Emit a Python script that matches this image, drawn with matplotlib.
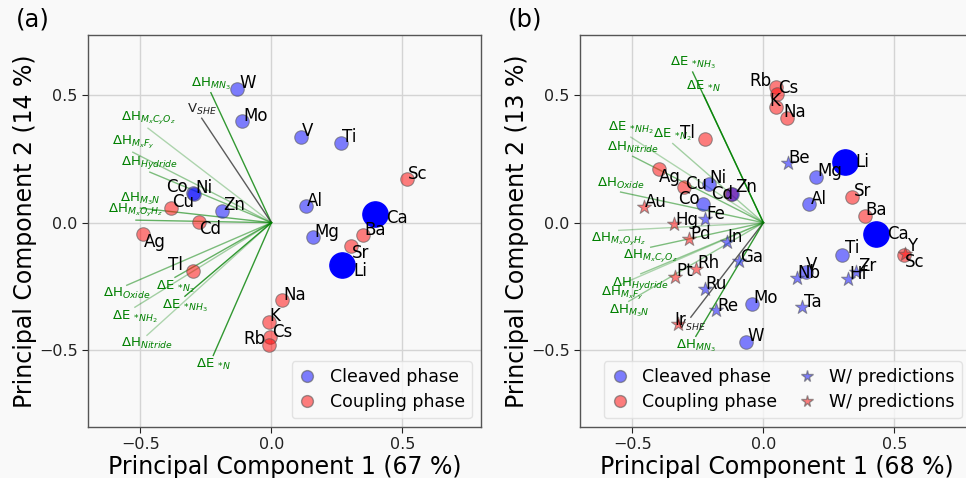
import matplotlib
matplotlib.use('Agg')
import matplotlib.pyplot as plt
from matplotlib.lines import Line2D

# ---------------- Panel (a) data ----------------
a_elements = ['W', 'Mo', 'V', 'Ti', 'Sc', 'Co', 'Ni', 'Cu', 'Zn', 'Cd', 'Ag', 'Tl',
              'Al', 'Mg', 'Ca', 'Ba', 'Sr', 'Li', 'Na', 'K', 'Cs', 'Rb']
a_pc1 = [-0.130, -0.111, 0.112, 0.267, 0.516, -0.299, -0.295, -0.384, -0.189, -0.275, -0.489, -0.300,
         0.133, 0.160, 0.395, 0.350, 0.305, 0.271, 0.041, -0.010, -0.004, -0.010]
a_pc2 = [0.523, 0.398, 0.334, 0.313, 0.173, 0.116, 0.114, 0.056, 0.046, 0.003, -0.046, -0.189,
         0.065, -0.056, 0.036, -0.049, -0.091, -0.167, -0.304, -0.389, -0.448, -0.478]
a_phase = ['cleaved', 'cleaved', 'cleaved', 'cleaved', 'coupling', 'cleaved', 'cleaved', 'coupling',
           'cleaved', 'coupling', 'coupling', 'coupling', 'cleaved', 'cleaved', 'cleaved', 'coupling',
           'coupling', 'cleaved', 'coupling', 'coupling', 'coupling', 'coupling']
a_loading_labels = [r'$\Delta\mathrm{H}_{MN_3}$', r'$\mathrm{V}_{SHE}$', r'$\Delta\mathrm{H}_{M_xC_yO_z}$',
                    r'$\Delta\mathrm{H}_{M_xF_y}$', r'$\Delta\mathrm{H}_{Hydride}$', r'$\Delta\mathrm{H}_{M_3N}$',
                    r'$\Delta\mathrm{H}_{M_xO_yH_z}$', r'$\Delta\mathrm{H}_{Oxide}$',
                    r'$\Delta\mathrm{E}\ {}_{*N_2}$', r'$\Delta\mathrm{E}\ {}_{*NH_3}$',
                    r'$\Delta\mathrm{E}\ {}_{*NH_2}$', r'$\Delta\mathrm{H}_{Nitride}$', r'$\Delta\mathrm{E}\ {}_{*N}$']
a_load_x = [-0.231, -0.266, -0.471, -0.529, -0.464, -0.500, -0.517, -0.552, -0.368, -0.330, -0.521, -0.475, -0.222]
a_load_y = [0.509, 0.409, 0.370, 0.276, 0.198, 0.057, 0.010, -0.245, -0.214, -0.288, -0.331, -0.441, -0.520]

# ---------------- Panel (b) data ----------------
b_elements = ['Rb', 'Cs', 'K', 'Na', 'Tl', 'Ag', 'Cu', 'Ni', 'Co', 'Cd', 'Zn', 'Au', 'Fe', 'Hg', 'Pd',
              'In', 'Ga', 'Rh', 'Pt', 'Ru', 'Mo', 'Re', 'Ir', 'W', 'Be', 'Li', 'Mg', 'Sr', 'Al', 'Ba',
              'Ca', 'Ti', 'Sc', 'Y', 'V', 'Nb', 'Zr', 'Hf', 'Ta']
b_pc1 = [0.047, 0.053, 0.047, 0.089, -0.224, -0.398, -0.303, -0.208, -0.229, -0.125, -0.120, -0.456,
         -0.224, -0.341, -0.284, -0.140, -0.093, -0.256, -0.337, -0.224, -0.045, -0.182, -0.326, -0.068,
         0.092, 0.310, 0.202, 0.340, 0.174, 0.387, 0.429, 0.299, 0.537, 0.541, 0.161, 0.127, 0.352,
         0.323, 0.146]
b_pc2 = [0.533, 0.504, 0.452, 0.410, 0.327, 0.212, 0.140, 0.151, 0.073, 0.112, 0.113, 0.062,
         0.014, -0.007, -0.062, -0.075, -0.151, -0.182, -0.212, -0.258, -0.320, -0.340, -0.398, -0.467,
         0.232, 0.236, 0.180, 0.099, 0.075, 0.027, -0.045, -0.127, -0.125, -0.122, -0.193, -0.215, -0.193,
         -0.222, -0.330]
b_phase = ['coupling', 'coupling', 'coupling', 'coupling', 'coupling', 'coupling', 'coupling', 'cleaved',
           'cleaved', 'coupling', 'cleaved', 'coupling', 'cleaved', 'coupling', 'coupling', 'cleaved',
           'cleaved', 'coupling', 'coupling', 'cleaved', 'cleaved', 'cleaved', 'coupling', 'cleaved',
           'cleaved', 'cleaved', 'cleaved', 'coupling', 'cleaved', 'coupling', 'cleaved', 'cleaved',
           'coupling', 'coupling', 'cleaved', 'cleaved', 'cleaved', 'cleaved', 'cleaved']
b_predicted = ['Au', 'Fe', 'Hg', 'Pd', 'In', 'Ga', 'Rh', 'Pt', 'Ru', 'Re', 'Ir', 'Be', 'Y', 'Nb', 'Zr', 'Hf', 'Ta']
b_loading_labels = [r'$\Delta\mathrm{E}\ {}_{*NH_3}$', r'$\Delta\mathrm{E}\ {}_{*N}$',
                    r'$\Delta\mathrm{E}\ {}_{*NH_2}$', r'$\Delta\mathrm{E}\ {}_{*N_2}$',
                    r'$\Delta\mathrm{H}_{Nitride}$', r'$\Delta\mathrm{H}_{Oxide}$', r'$\Delta\mathrm{H}_{M_xO_yH_z}$',
                    r'$\Delta\mathrm{H}_{M_xC_yO_z}$', r'$\Delta\mathrm{H}_{Hydride}$', r'$\Delta\mathrm{H}_{M_xF_y}$',
                    r'$\Delta\mathrm{H}_{M_3N}$', r'$\mathrm{V}_{SHE}$', r'$\Delta\mathrm{H}_{MN_3}$']
b_load_x = [-0.270, -0.228, -0.506, -0.346, -0.499, -0.545, -0.552, -0.430, -0.468, -0.540, -0.514, -0.277, -0.258]
b_load_y = [0.590, 0.500, 0.335, 0.310, 0.260, 0.120, -0.030, -0.096, -0.200, -0.240, -0.308, -0.370, -0.445]

highlighted = ['Li', 'Ca']

# ---------------- styling (not data) ----------------
BG = '#f9f9f9'
BLUE = (0.0, 0.0, 1.0, 0.5)
RED = (1.0, 0.0, 0.0, 0.5)
EDGE = (0.35, 0.35, 0.35, 0.6)

# label offsets in pixels (dx, dy, ha)
a_offsets = {
    'W': (2, 6, 'left'), 'Mo': (1, 5, 'left'), 'V': (1, 6, 'left'), 'Ti': (1, 6, 'left'),
    'Sc': (1, 5, 'left'), 'Co': (-5, 6, 'right'), 'Ni': (1, 6, 'left'), 'Cu': (1, 6, 'left'),
    'Zn': (1, 6, 'left'), 'Cd': (0, -7, 'left'), 'Ag': (1, -8, 'left'), 'Tl': (-10, 6, 'right'),
    'Al': (1, 5, 'left'), 'Mg': (1, 5, 'left'), 'Ca': (11, -4, 'left'), 'Ba': (1, 5, 'left'),
    'Sr': (1, -7, 'left'), 'Li': (11, -6, 'left'), 'Na': (1, 5, 'left'), 'K': (1, 6, 'left'),
    'Cs': (2, 5, 'left'), 'Rb': (-3, 6, 'right'),
}
b_offsets = {
    'Rb': (-4, 6, 'right'), 'Cs': (1, 6, 'left'), 'K': (-6, 6, 'left'), 'Na': (-3, 6, 'left'),
    'Tl': (-10, 6, 'right'), 'Ag': (0, -8, 'left'), 'Cu': (1, 3, 'left'), 'Ni': (0, 6, 'left'),
    'Co': (-4, 5, 'right'), 'Cd': (2, 0, 'right'), 'Zn': (3, 7, 'left'), 'Au': (1, 5, 'left'),
    'Fe': (2, 5, 'left'), 'Hg': (1, 4, 'left'), 'Pd': (1, 5, 'left'), 'In': (1, 5, 'left'),
    'Ga': (1, 4, 'left'), 'Rh': (1, 6, 'left'), 'Pt': (1, 6, 'left'), 'Ru': (1, 5, 'left'),
    'Mo': (2, 6, 'left'), 'Re': (2, 4, 'left'), 'Ir': (-4, 4, 'left'), 'W': (2, 6, 'left'),
    'Be': (1, 5, 'left'), 'Li': (11, 0, 'left'), 'Mg': (1, 6, 'left'), 'Sr': (1, 6, 'left'),
    'Al': (2, 5, 'left'), 'Ba': (1, 6, 'left'), 'Ca': (11, 0, 'left'), 'Ti': (3, 7, 'left'),
    'Sc': (1, -7, 'left'), 'Y': (2, 8, 'left'), 'V': (0, 7, 'left'), 'Nb': (1, 5, 'left'),
    'Zr': (3, 6, 'left'), 'Hf': (1, 5, 'left'), 'Ta': (2, 5, 'left'),
}
a_alphas = [0.8, 0.8, 0.3, 0.4, 0.5, 0.6, 0.6, 0.5, 0.6, 0.8, 0.35, 0.3, 0.8]
b_alphas = [0.8, 0.8, 0.3, 0.35, 0.5, 0.5, 0.3, 0.5, 0.4, 0.3, 0.4, 0.8, 0.8]

plt.rcParams['font.family'] = ['DejaVu Sans']
plt.rcParams['mathtext.fontset'] = 'dejavusans'

fig = plt.figure(figsize=(9.66, 4.78), dpi=100, facecolor=BG)
ax_a = fig.add_axes([88 / 966, 1 - 427 / 478, 393 / 966, 392 / 478])
ax_b = fig.add_axes([580 / 966, 1 - 427 / 478, 393 / 966, 392 / 478])


def draw_panel(ax, elements, pc1, pc2, phase, predicted, load_x, load_y, load_labels, alphas, offsets):
    ax.set_facecolor(BG)
    ax.set_xlim(-0.7, 0.8)
    ax.set_ylim(-0.8, 0.735)
    ax.set_xticks([-0.5, 0.0, 0.5])
    ax.set_yticks([-0.5, 0.0, 0.5])
    ax.grid(True, color='#d4d4d4', linewidth=1.0, zorder=0)
    ax.set_axisbelow(True)
    ax.tick_params(labelsize=11.5, colors='#222222', length=4, width=0.8)
    for sp in ax.spines.values():
        sp.set_color('#555555')
        sp.set_linewidth(1.0)

    # loadings
    for lx, ly, lab, al in zip(load_x, load_y, load_labels, alphas):
        is_v = 'SHE' in lab
        col = '#333333' if is_v else 'green'
        ax.plot([0, lx], [0, ly], color=col, alpha=al, linewidth=1.0, zorder=2)
        ax.annotate(lab, (lx, ly), xytext=(0, 1 if ly >= 0 else -1), textcoords='offset pixels',
                    ha='center', va='bottom' if ly >= 0 else 'top',
                    fontsize=9.5, color='#222222' if is_v else 'green', zorder=3)

    # points
    for el, x, y, ph in zip(elements, pc1, pc2, phase):
        if el in highlighted:
            ax.scatter([x], [y], s=330, color='blue', edgecolors='blue', zorder=5)
        elif el in predicted:
            ax.scatter([x], [y], s=110, marker='*', color=BLUE if ph == 'cleaved' else RED,
                       edgecolors=EDGE, linewidths=0.8, zorder=4)
        else:
            ax.scatter([x], [y], s=95, color=BLUE if ph == 'cleaved' else RED,
                       edgecolors=EDGE, linewidths=0.8, zorder=4)
        dx, dy, ha = offsets.get(el, (1, 5, 'left'))
        ax.annotate(el, (x, y), xytext=(dx, dy), textcoords='offset pixels',
                    ha=ha, va='center', fontsize=12, color='black', zorder=6)


draw_panel(ax_a, a_elements, a_pc1, a_pc2, a_phase, [], a_load_x, a_load_y,
           a_loading_labels, a_alphas, a_offsets)
draw_panel(ax_b, b_elements, b_pc1, b_pc2, b_phase, b_predicted, b_load_x, b_load_y,
           b_loading_labels, b_alphas, b_offsets)

ax_a.set_xlabel('Principal Component 1 (67 %)', fontsize=17, labelpad=2)
ax_a.set_ylabel('Principal Component 2 (14 %)', fontsize=17, labelpad=1)
ax_b.set_xlabel('Principal Component 1 (68 %)', fontsize=17, labelpad=2)
ax_b.set_ylabel('Principal Component 2 (13 %)', fontsize=17, labelpad=1)

fig.text(16 / 966, 1 - 20 / 478, '(a)', fontsize=17.5, va='center', ha='left')
fig.text(508 / 966, 1 - 20 / 478, '(b)', fontsize=17.5, va='center', ha='left')

h_cl = Line2D([], [], marker='o', linestyle='', markersize=8.5, markerfacecolor=BLUE, markeredgecolor=EDGE)
h_co = Line2D([], [], marker='o', linestyle='', markersize=8.5, markerfacecolor=RED, markeredgecolor=EDGE)
h_sb = Line2D([], [], marker='*', linestyle='', markersize=8.5, markerfacecolor=BLUE, markeredgecolor=EDGE)
h_sr = Line2D([], [], marker='*', linestyle='', markersize=8.5, markerfacecolor=RED, markeredgecolor=EDGE)

leg_a = ax_a.legend([h_cl, h_co], ['Cleaved phase', 'Coupling phase'], loc='lower right',
                    fontsize=12.5, frameon=True, handlelength=1.0, handletextpad=0.8, borderpad=0.4,
                    labelspacing=0.4, borderaxespad=0, bbox_to_anchor=(0.977, 0.023))
leg_a.get_frame().set_facecolor(BG)
leg_a.get_frame().set_edgecolor('#dddddd')
leg_b = ax_b.legend([h_cl, h_co, h_sb, h_sr],
                    ['Cleaved phase', 'Coupling phase', 'W/ predictions', 'W/ predictions'],
                    loc='lower left', ncol=2, fontsize=12.5, frameon=True, handlelength=1.0,
                    handletextpad=0.8, borderpad=0.4, labelspacing=0.4, columnspacing=1.2,
                    borderaxespad=0, bbox_to_anchor=(0.061, 0.023))
leg_b.get_frame().set_facecolor(BG)
leg_b.get_frame().set_edgecolor('#dddddd')

fig.savefig('out.png', dpi=100, facecolor=BG)
